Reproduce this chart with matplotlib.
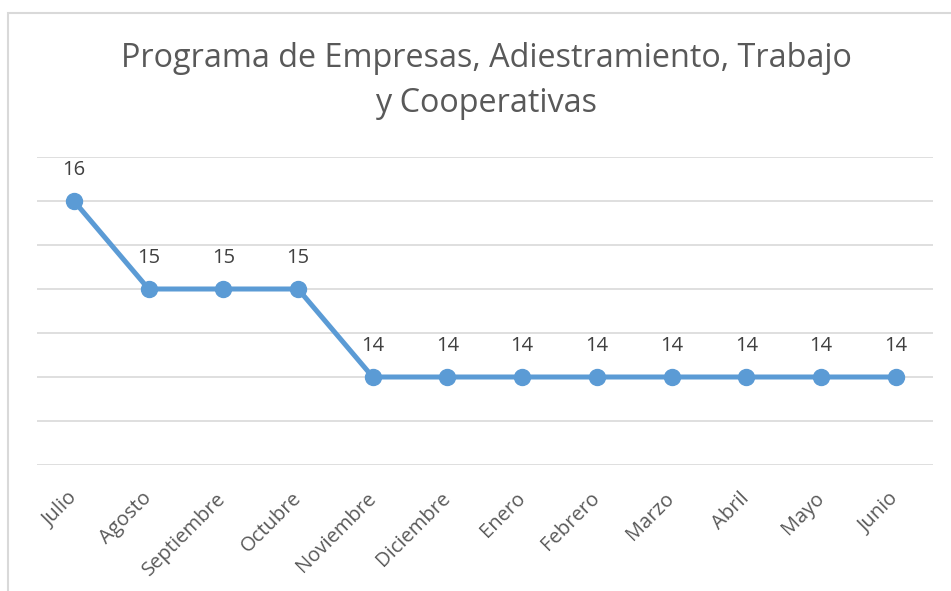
import matplotlib
matplotlib.use('Agg')
import matplotlib.pyplot as plt
from matplotlib.patches import Rectangle
import numpy as np

months = ['Julio', 'Agosto', 'Septiembre', 'Octubre', 'Noviembre', 'Diciembre',
          'Enero', 'Febrero', 'Marzo', 'Abril', 'Mayo', 'Junio']
values = [16, 15, 15, 15, 14, 14, 14, 14, 14, 14, 14, 14]
y_ticks = [13, 13.5, 14, 14.5, 15, 15.5, 16, 16.5]

plt.rcParams['font.family'] = ['Open Sans', 'DejaVu Sans']

W, H = 951, 591
fig = plt.figure(figsize=(W / 100, H / 100), dpi=100)
ax = fig.add_axes([36.6 / W, 1 - 465 / H, (933 - 36.6) / W, (465 - 157) / H])

# outer chart border (only left and top visible)
fig.add_artist(Rectangle((8 / W, -0.2), 1.2, 1 - 13 / H + 0.2, transform=fig.transFigure,
                         fill=False, edgecolor='#D9D9D9', linewidth=1.5))

x = np.arange(len(months))
ax.plot(x, values, color='#5B9BD5', linewidth=3.6, marker='o', markersize=11.5,
        solid_capstyle='round', zorder=3)

for xi, v in zip(x, values):
    ax.annotate(str(v), (xi, v), xytext=(0, 22), textcoords='offset points',
                ha='center', va='center', fontsize=14.5, color='#404040')

ax.set_xlim(-0.5, len(months) - 0.5)
ax.set_ylim(y_ticks[0], y_ticks[-1])
ax.set_yticks(y_ticks)
ax.set_yticklabels([])
ax.grid(axis='y', color='#D9D9D9', linewidth=1.2)
ax.set_axisbelow(True)
for s in ax.spines.values():
    s.set_visible(False)
ax.tick_params(axis='both', length=0)
ax.set_xticks(x)
ax.set_xticklabels(months, rotation=45, ha='right', va='center', rotation_mode='anchor',
                   fontsize=14.5, color='#595959')
ax.tick_params(axis='x', pad=22)

fig.suptitle('Programa de Empresas, Adiestramiento, Trabajo\ny Cooperativas',
             x=486 / W, y=1 - 42 / H, va='top', fontsize=23.3, color='#595959',
             linespacing=1.5)

fig.savefig('out.png', dpi=100)
